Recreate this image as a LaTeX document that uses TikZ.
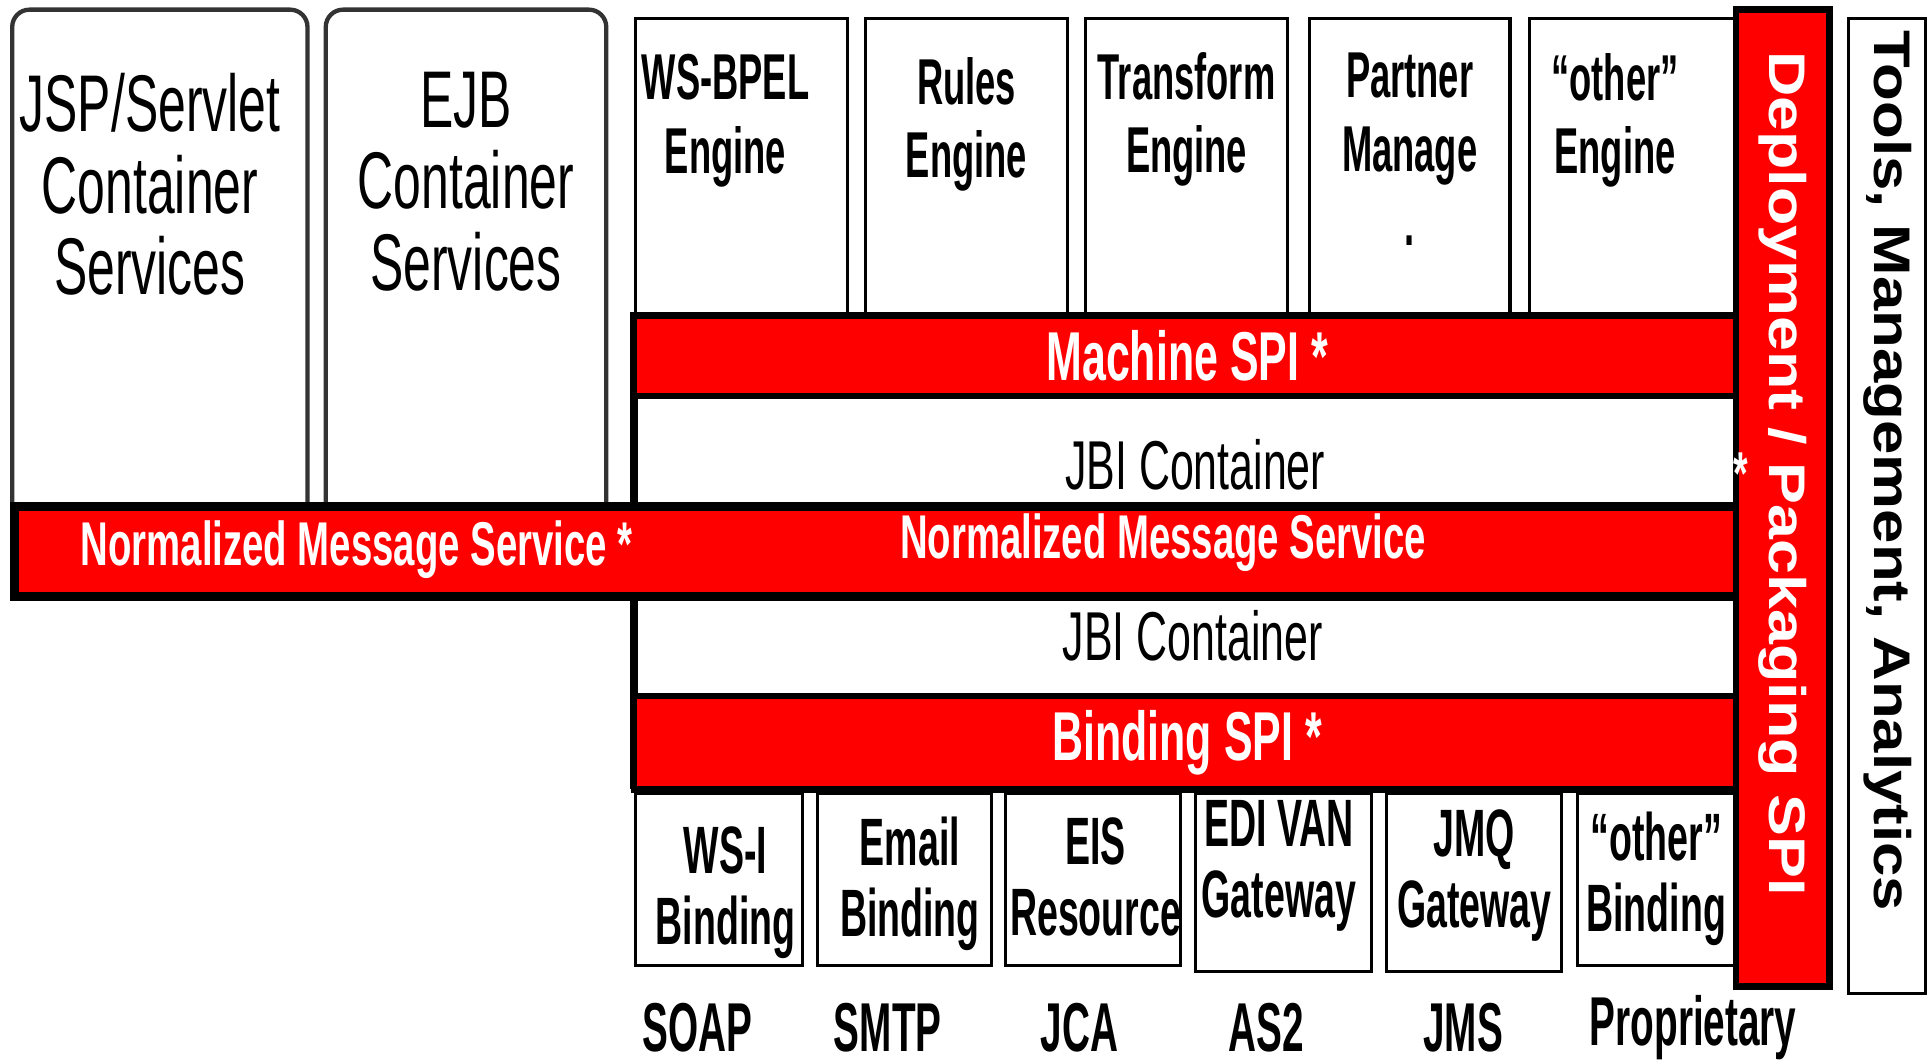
\documentclass[tikz,border=0pt]{standalone}
\usepackage{fontspec}
\setmainfont{Liberation Sans}[FakeStretch=0.62]
\newfontfamily\narrowfont{Liberation Sans}[FakeStretch=0.56]
\newfontfamily\deployfont{Liberation Sans}[FakeStretch=1.22]
\newfontfamily\toolsfont{Liberation Sans}[FakeStretch=1.2]
\usepackage{tikz}
\usetikzlibrary{positioning}
\usepackage{xcolor}
\definecolor{jbired}{HTML}{FF0000}
\definecolor{svcgray}{HTML}{333333}

\begin{document}
\begin{tikzpicture}[
    x=0.01cm, y=-0.01cm,
    svcbox/.style={draw=svcgray, line width=1pt, fill=white, rounded corners=4pt},
    engbox/.style={draw, line width=0.7pt, fill=white, minimum height=2.43cm},
    bindbox/.style={draw, line width=0.7pt, fill=white},
    spibar/.style={draw, line width=1.5pt, fill=jbired, text=white, minimum width=8.99cm, font=\fontsize{16}{18}\selectfont\bfseries},
    svctext/.style={align=center, inner sep=0pt, font=\fontsize{18.6}{18.8}\selectfont},
    engtext/.style={align=center, inner sep=0pt, font=\narrowfont\fontsize{15}{17}\selectfont\bfseries},
    bindtext/.style={align=center, inner sep=0pt, font=\narrowfont\fontsize{15.5}{16.5}\selectfont\bfseries},
    jbitext/.style={inner sep=0pt, font=\fontsize{16}{18}\selectfont},
    nmstext/.style={inner sep=0pt, text=white, font=\fontsize{14.3}{16}\selectfont\bfseries},
    prototext/.style={inner sep=0pt, font=\narrowfont\fontsize{16}{18}\selectfont\bfseries},
    sidebar/.style={draw, line width=0.7pt, fill=white}
]
\useasboundingbox[fill=white] (0,0) rectangle (1568,865);

% ---- Engines ----
\node[engbox, minimum width=1.72cm] (bpel) at (603,136.5) {};
\node[engbox, minimum width=1.64cm] (rules) at (786,136.5) {};
\node[engbox, minimum width=1.64cm] (transform) at (965,136.5) {};
\node[engbox, minimum width=1.63cm] (partner) at (1146.5,136.5) {};
\node[engbox, minimum width=1.69cm] (otherengine) at (1328.5,136.5) {};

\node[engtext, anchor=north, xshift=-0.13cm, yshift=-0.30cm] (bpeltext) at (bpel.north) {WS-BPEL\\Engine};
\node[engtext, anchor=north, yshift=-0.32cm] (rulestext) at (rules.north) {Rules\\Engine};
\node[engtext, anchor=north, yshift=-0.28cm] (transformtext) at (transform.north) {Transform\\Engine};
\node[engtext, anchor=north, yshift=-0.29cm] (partnertext) at (partner.north) {Partner\\Manage\\.};
\node[engtext, anchor=north, xshift=-0.15cm, yshift=-0.29cm] (otherenginetext) at (otherengine.north) {“other”\\Engine};

% ---- Container services ----
\node[svcbox, minimum width=2.40cm, minimum height=4.42cm] (jsp) at (130,229) {};
\node[svcbox, minimum width=2.28cm, minimum height=4.42cm] (ejb) at (379,229) {};
\node[svctext, anchor=north, xshift=-0.08cm, yshift=-0.53cm] (jsptext) at (jsp.north) {JSP/Servlet\\Container\\Services};
\node[svctext, anchor=north, yshift=-0.52cm] (ejbtext) at (ejb.north) {EJB\\Container\\Services};

% ---- JBI container stack ----
\node[draw, line width=2pt, fill=white, minimum width=8.99cm, minimum height=3.81cm] (jbiframe) at (965.5,447.5) {};
\node[spibar, minimum height=0.65cm] (machine) at (965.5,289.5) {Machine SPI *};
\node[jbitext] (jbiup) at (972,378) {JBI Container};
\node[draw, line width=2pt, fill=jbired, minimum width=14.03cm, minimum height=0.73cm] (nms) at (713.5,448.5) {};
\node[nmstext] (nmsleft) at (290,447) {Normalized Message Service *};
\node[nmstext] (nmsright) at (946,441) {Normalized Message Service};
\node[jbitext] (jbilow) at (970,517) {JBI Container};
\node[spibar, minimum height=0.68cm] (binding) at (965.5,604) {Binding SPI *};

% ---- Bindings ----
\node[bindbox, minimum width=1.36cm, minimum height=1.40cm] (wsi) at (585,715) {};
\node[bindbox, minimum width=1.41cm, minimum height=1.40cm] (email) at (735.5,715) {};
\node[bindbox, minimum width=1.42cm, minimum height=1.40cm] (eis) at (889,715) {};
\node[bindbox, minimum width=1.43cm, minimum height=1.45cm] (edi) at (1043.5,717.5) {};
\node[bindbox, minimum width=1.42cm, minimum height=1.45cm] (jmq) at (1199,717.5) {};
\node[bindbox, minimum width=1.29cm, minimum height=1.40cm] (otherbind) at (1347.5,715) {};

\node[bindtext] (wsitext) at (590,726) {WS-I\\Binding};
\node[bindtext] (emailtext) at (740,719) {Email\\Binding};
\node[bindtext] (eistext) at (891,713) {EIS\\Resource};
\node[bindtext] (editext) at (1040,704) {EDI VAN\\Gateway};
\node[bindtext] (jmqtext) at (1199,712) {JMQ\\Gateway};
\node[bindtext] (otherbindtext) at (1347,715) {“other”\\Binding};

% ---- Protocols ----
\node[prototext] (soap) at (567,836) {SOAP};
\node[prototext] (smtp) at (722,836) {SMTP};
\node[prototext] (jca) at (878,836) {JCA};
\node[prototext] (as2) at (1030,836) {AS2};
\node[prototext] (jms) at (1190,836) {JMS};
\node[prototext] (proprietary) at (1377,836) {Proprietary};

% ---- Side bars ----
\node[draw, line width=1.5pt, fill=jbired, minimum width=0.76cm, minimum height=7.94cm] (deploy) at (1450,405) {};
\node[rotate=-90, inner sep=0pt, text=white, font=\deployfont\fontsize{11.9}{14}\selectfont\bfseries] (deploytext) at (1450,385) {Deployment / Packaging SPI};
\node[inner sep=0pt, text=white, font=\fontsize{14}{16}\selectfont\bfseries] (spistar) at (1416,385) {*};
\node[sidebar, minimum width=0.63cm, minimum height=7.93cm] (tools) at (1534.5,411.5) {};
\node[rotate=-90, inner sep=0pt, font=\toolsfont\fontsize{11.9}{14}\selectfont\bfseries] (toolstext) at (1535,383) {Tools, Management, Analytics};

\end{tikzpicture}
\end{document}
